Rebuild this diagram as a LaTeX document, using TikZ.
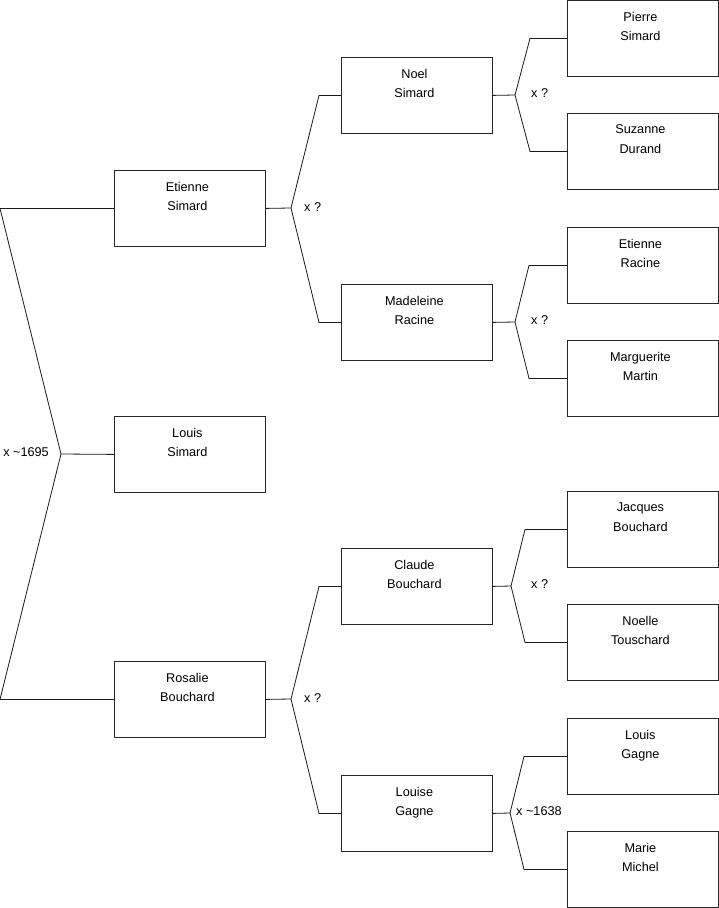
\documentclass[tikz,border=0pt]{standalone}
\usepackage{fontspec}
\setmainfont{Liberation Sans}
\begin{document}
\begin{tikzpicture}[x=1pt,y=-1pt,
  person/.style={draw=black!85, line width=0.8pt, minimum width=151pt, minimum height=76pt,
    inner sep=0pt, anchor=north west},
  pname/.style={anchor=north, align=center, inner sep=0pt, yshift=-11.8pt, xshift=-2.5pt,
    font=\fontsize{12.7pt}{19.5pt}\selectfont},
  link/.style={draw=black!90, line width=0.8pt, line join=round, line cap=round},
  union/.style={inner sep=0pt, font=\fontsize{12.7pt}{15pt}\selectfont}]
\useasboundingbox (0,0) rectangle (719,908);

% generation 1
\node[person, label={[pname]north:Etienne\\Simard}] (es) at (114,170) {};
\node[person, label={[pname]north:Louis\\Simard}] (ls) at (114,416) {};
\node[person, label={[pname]north:Rosalie\\Bouchard}] (rb) at (114,661) {};
% generation 2
\node[person, label={[pname]north:Noel\\Simard}] (ns) at (341,57) {};
\node[person, label={[pname]north:Madeleine\\Racine}] (mr) at (341,284) {};
\node[person, label={[pname]north:Claude\\Bouchard}] (cb) at (341,548) {};
\node[person, label={[pname]north:Louise\\Gagne}] (lg) at (341,775) {};
% generation 3
\node[person, label={[pname]north:Pierre\\Simard}] (ps) at (567,0) {};
\node[person, label={[pname]north:Suzanne\\Durand}] (sd) at (567,113) {};
\node[person, label={[pname]north:Etienne\\Racine}] (er) at (567,227) {};
\node[person, label={[pname]north:Marguerite\\Martin}] (mm) at (567,340) {};
\node[person, label={[pname]north:Jacques\\Bouchard}] (jb) at (567,491) {};
\node[person, label={[pname]north:Noelle\\Touschard}] (nt) at (567,604) {};
\node[person, label={[pname]north:Louis\\Gagne}] (lgg) at (567,718) {};
\node[person, label={[pname]north:Marie\\Michel}] (mmi) at (567,831) {};

% fork points
\coordinate (f0) at (61,454);
\coordinate (f1) at (291,208);
\coordinate (f2) at (291,699);
\coordinate (f3) at (515,95);
\coordinate (f4) at (515,322);
\coordinate (f5) at (511,586);
\coordinate (f6) at (510,813);

% union labels
\node[union, anchor=east] (u0) at (49,452) {x \textasciitilde1695};
\node[union, anchor=west] (u1) at (304,207) {x ?};
\node[union, anchor=west] (u2) at (304,698) {x ?};
\node[union, anchor=west] (u3) at (531,93) {x ?};
\node[union, anchor=west] (u4) at (531,320) {x ?};
\node[union, anchor=west] (u5) at (531,584) {x ?};
\node[union, anchor=west] (u6) at (516,811) {x \textasciitilde1638};

% connectors
\draw[link] (es.west) -- ([xshift=-114pt]es.west) -- (f0) -- ([xshift=-114pt]rb.west) -- (rb.west);
\draw[link] (f0) -- (ls.west);

\draw[link] (es.east) -- (f1);
\draw[link] (ns.west) -- ([xshift=-22pt]ns.west) -- (f1) -- ([xshift=-22pt]mr.west) -- (mr.west);

\draw[link] (rb.east) -- (f2);
\draw[link] (cb.west) -- ([xshift=-22pt]cb.west) -- (f2) -- ([xshift=-22pt]lg.west) -- (lg.west);

\draw[link] (ns.east) -- (f3);
\draw[link] (ps.west) -- ([xshift=-37pt]ps.west) -- (f3) -- ([xshift=-37pt]sd.west) -- (sd.west);

\draw[link] (mr.east) -- (f4);
\draw[link] (er.west) -- ([xshift=-38pt]er.west) -- (f4) -- ([xshift=-38pt]mm.west) -- (mm.west);

\draw[link] (cb.east) -- (f5);
\draw[link] (jb.west) -- ([xshift=-42pt]jb.west) -- (f5) -- ([xshift=-42pt]nt.west) -- (nt.west);

\draw[link] (lg.east) -- (f6);
\draw[link] (lgg.west) -- ([xshift=-43pt]lgg.west) -- (f6) -- ([xshift=-43pt]mmi.west) -- (mmi.west);
\end{tikzpicture}
\end{document}
